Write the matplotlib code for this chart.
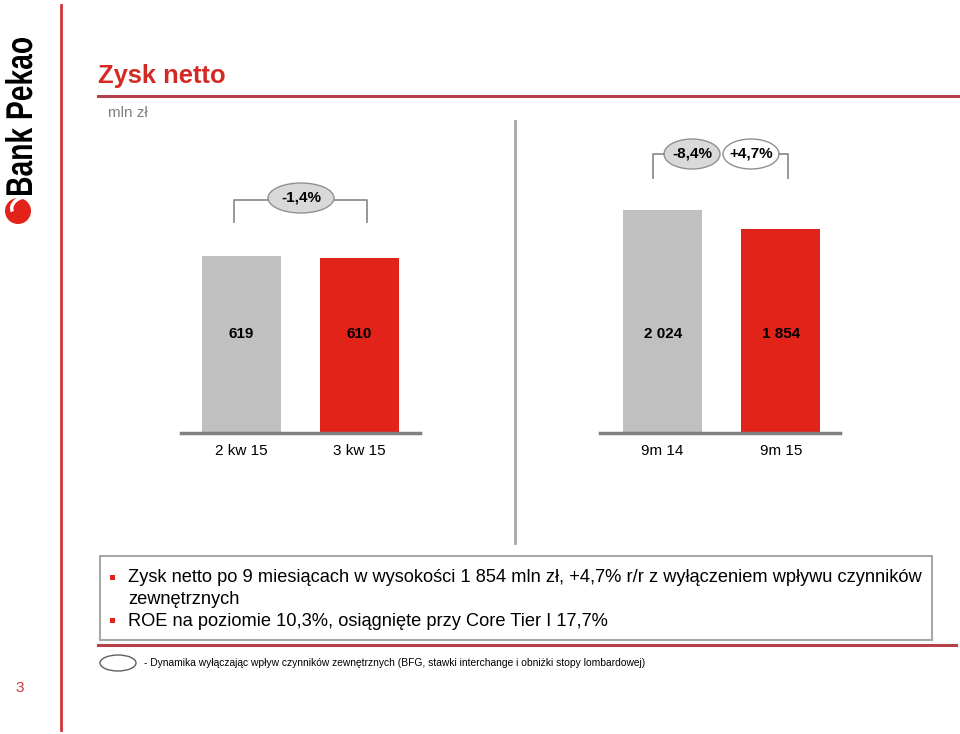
import matplotlib
matplotlib.use("Agg")
import matplotlib.pyplot as plt
from matplotlib.patches import Ellipse, Rectangle, Circle, Arc, PathPatch
from matplotlib.textpath import TextPath
from matplotlib.font_manager import FontProperties
from matplotlib.transforms import Affine2D

plt.rcParams['font.family'] = ['Liberation Sans', 'DejaVu Sans']

# ---- data ----
periods_q = ['2 kw 15', '3 kw 15']
profit_q = [619, 610]
periods_9m = ['9m 14', '9m 15']
profit_9m = [2024, 1854]
change_q = '-1,4%'
change_9m = '-8,4%'
change_9m_adj = '+4,7%'

bullets = [
    'Zysk netto po 9 miesiącach w wysokości 1 854 mln zł, +4,7% r/r z wyłączeniem wpływu czynników\nzewnętrznych',
    'ROE na poziomie 10,3%, osiągnięte przy Core Tier I 17,7%',
]
footnote = '- Dynamika wyłączając wpływ czynników zewnętrznych (BFG, stawki interchange i obniżki stopy lombardowej)'

RED = '#e2231a'
GREY = '#c0c0c0'
W, H = 960, 734

fig = plt.figure(figsize=(W / 100, H / 100), dpi=100)

# overlay in pixel coordinates for decoration and text
ov = fig.add_axes([0, 0, 1, 1])
ov.set_xlim(0, W)
ov.set_ylim(H, 0)
ov.axis('off')


def px_axes(x0, x1, y_top, y_bot):
    return fig.add_axes([x0 / W, 1 - y_bot / H, (x1 - x0) / W, (y_bot - y_top) / H])


def bar_panel(x0, x1, cats, vals, ymax, xlim):
    ax = px_axes(x0, x1, 100, 433)
    ax.patch.set_alpha(0)
    ax.bar([0, 1], vals, width=0.67, color=[GREY, RED], zorder=2)
    ax.set_xlim(*xlim)
    ax.set_ylim(0, ymax)
    for s in ['top', 'left', 'right']:
        ax.spines[s].set_visible(False)
    ax.spines['bottom'].set_color('#808080')
    ax.spines['bottom'].set_linewidth(2.5)
    ax.set_yticks([])
    ax.set_xticks([0, 1])
    ax.set_xticklabels(cats, fontsize=11)
    ax.tick_params(axis='x', length=0, pad=8)
    for i, v in enumerate(vals):
        ax.text(i, 0.297, f'{v:,}'.replace(',', ' '), transform=ax.get_xaxis_transform(),
                ha='center', va='center', fontsize=11, fontweight='bold')
    return ax


bar_panel(181, 420, periods_q, profit_q, 1164, (-0.513, 1.513))
bar_panel(600, 840, periods_9m, profit_9m, 3022, (-0.53, 1.50))

# frame lines
ov.plot([61, 61], [5, 730], color='#d0333a', lw=2)
ov.plot([98, 958], [96, 96], color='#b5404a', lw=2.2)
ov.plot([98, 956], [645, 645], color='#b5404a', lw=2.2)
ov.plot([515, 515], [121, 543], color='#a6a6a6', lw=2)

# title
ov.text(98, 76, 'Zysk netto', color='#d42a24', fontsize=18.4, fontweight='bold', va='center')
ov.text(108, 113, 'mln zł', color='#808080', fontsize=11, va='center')

# brackets with change labels
gl = '#909090'
ov.plot([234, 234, 268], [222, 200, 200], color=gl, lw=1.3)
ov.plot([334, 367, 367], [200, 200, 222], color=gl, lw=1.3)
ov.add_patch(Ellipse((301, 198), 66, 30, fc='#d9d9d9', ec='#909090', lw=1))
ov.text(301, 198, change_q, ha='center', va='center', fontsize=11, fontweight='bold')

ov.plot([653, 653, 664], [178, 154, 154], color=gl, lw=1.3)
ov.plot([779, 788, 788], [154, 154, 178], color=gl, lw=1.3)
ov.add_patch(Ellipse((692, 154), 56, 30, fc='#d9d9d9', ec='#909090', lw=1))
ov.add_patch(Ellipse((751, 154), 56, 30, fc='white', ec='#909090', lw=1))
ov.text(692, 154, change_9m, ha='center', va='center', fontsize=11, fontweight='bold')
ov.text(751, 154, change_9m_adj, ha='center', va='center', fontsize=11, fontweight='bold')

# comment box
ov.add_patch(Rectangle((100, 556), 832, 84, fc='white', ec='#a8a8a8', lw=1.5))
ov.add_patch(Rectangle((110, 575), 5, 5, fc=RED, ec='none'))
ov.add_patch(Rectangle((110, 618), 5, 5, fc=RED, ec='none'))
ov.text(128, 578, bullets[0].split('\n')[0], fontsize=13.15, va='center')
ov.text(128, 599, bullets[0].split('\n')[1], fontsize=13.15, va='center')
ov.text(128, 621, bullets[1], fontsize=13.15, va='center')

# footnote
ov.add_patch(Ellipse((118, 663), 36, 16, fc='white', ec='#606060', lw=1))
ov.text(144, 663, footnote, fontsize=7.38, va='center')

# page number
ov.text(20, 688, '3', color='#d0333a', fontsize=11, ha='center', va='center')

# logo: condensed bold text, rotated to read bottom-up
tp = TextPath((0, 0), 'Bank Pekao', size=100, prop=FontProperties(family='Liberation Sans', weight='bold'))
ext = tp.get_extents()
sx = 157 / ext.width
sy = 27 / ext.ymax
logo_tr = Affine2D.from_values(0, -sx, -sy, 0, 32, 195 + ext.x0 * sx)
ov.add_patch(PathPatch(logo_tr.transform_path(tp), fc='black', ec='none'))
ov.add_patch(Circle((18, 211), 13, fc=RED, ec='none'))
ov.add_patch(Arc((22, 206), 22, 16, angle=-30, theta1=180, theta2=330, color='white', lw=2.5))

fig.savefig('out.png', dpi=100)
